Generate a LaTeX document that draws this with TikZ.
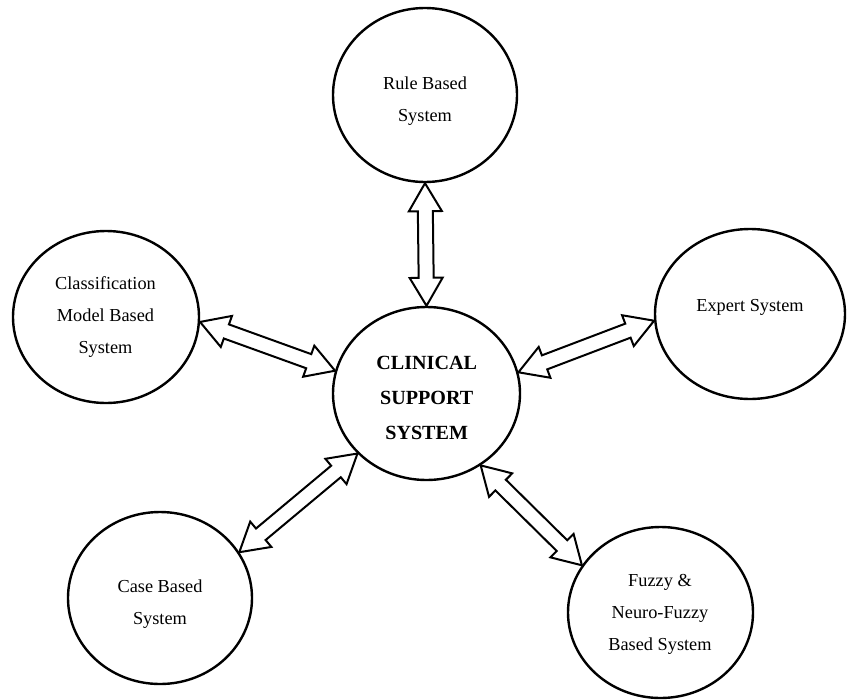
\documentclass[tikz,border=0pt]{standalone}
\usepackage{fontspec}
\setmainfont{Liberation Serif}
\usetikzlibrary{calc,shapes.geometric}

% arrow geometry: head length, head half-width, shaft half-width
\newcommand{\ahl}{28pt}
\newcommand{\ahw}{16.5pt}
\newcommand{\asw}{7.5pt}

\tikzset{
  sysnode/.style={ellipse, draw, line width=2.4pt, inner sep=0pt},
  systext/.style={align=center, inner sep=0pt, font=\fontsize{18.3}{32}\selectfont},
  coretext/.style={align=center, inner sep=0pt, font=\fontsize{20.1}{35}\selectfont\bfseries},
  blockarrow/.style={draw, line width=2pt, line join=miter, fill=white},
}

% hollow double-headed block arrow between two named points
\newcommand{\dblarrow}[2]{%
  \draw[blockarrow] (#1)
    -- ($(#1)!\ahl!(#2)!\ahw!90:(#2)$)
    -- ($(#1)!\ahl!(#2)!\asw!90:(#2)$)
    -- ($(#2)!\ahl!(#1)!\asw!-90:(#1)$)
    -- ($(#2)!\ahl!(#1)!\ahw!-90:(#1)$)
    -- (#2)
    -- ($(#2)!\ahl!(#1)!\ahw!90:(#1)$)
    -- ($(#2)!\ahl!(#1)!\asw!90:(#1)$)
    -- ($(#1)!\ahl!(#2)!\asw!-90:(#2)$)
    -- ($(#1)!\ahl!(#2)!\ahw!-90:(#2)$)
    -- cycle;}

\begin{document}
\begin{tikzpicture}[x=1pt, y=-1pt]
  \fill[white] (0,0) rectangle (848,699);
  \useasboundingbox (0,0) rectangle (848,699);

  % outer systems and the central one
  \node[sysnode, minimum width=184pt, minimum height=174pt] (rule)  at (425,95)      {};
  \node[sysnode, minimum width=186pt, minimum height=172pt] (cls)   at (106,317)     {};
  \node[sysnode, minimum width=187pt, minimum height=173pt] (cent)  at (426.5,393.5) {};
  \node[sysnode, minimum width=190pt, minimum height=170pt] (exp)   at (750,314)     {};
  \node[sysnode, minimum width=184pt, minimum height=172pt] (case)  at (160,598)     {};
  \node[sysnode, minimum width=185pt, minimum height=171pt] (fuzzy) at (660.5,612.5) {};

  % labels
  \node[systext]  (rule-t)  at (425,101)   {Rule Based\\System};
  \node[systext]  (cls-t)   at (105.5,317) {Classification\\Model Based\\System};
  \node[coretext] (cent-t)  at (426.7,398) {CLINICAL\\SUPPORT\\SYSTEM};
  \node[systext]  (exp-t)   at (750,307)   {Expert System};
  \node[systext]  (case-t)  at (160,604)   {Case Based\\System};
  \node[systext]  (fuzzy-t) at (660,614)   {Fuzzy \&\\Neuro-Fuzzy\\Based System};

  % arrow end points on the borders
  \coordinate (r1) at (rule.south);
  \coordinate (r2) at (cent.90);
  \coordinate (c1) at (cls.-3);
  \coordinate (c2) at (cent.166.5);
  \coordinate (e1) at (cent.13.7);
  \coordinate (e2) at (exp.184);
  \coordinate (k1) at (case.30);
  \coordinate (k2) at (cent.221.9);
  \coordinate (f1) at (cent.307.6);
  \coordinate (f2) at (fuzzy.149);

  \dblarrow{r1}{r2}
  \dblarrow{c1}{c2}
  \dblarrow{e1}{e2}
  \dblarrow{k1}{k2}
  \dblarrow{f1}{f2}
\end{tikzpicture}
\end{document}
